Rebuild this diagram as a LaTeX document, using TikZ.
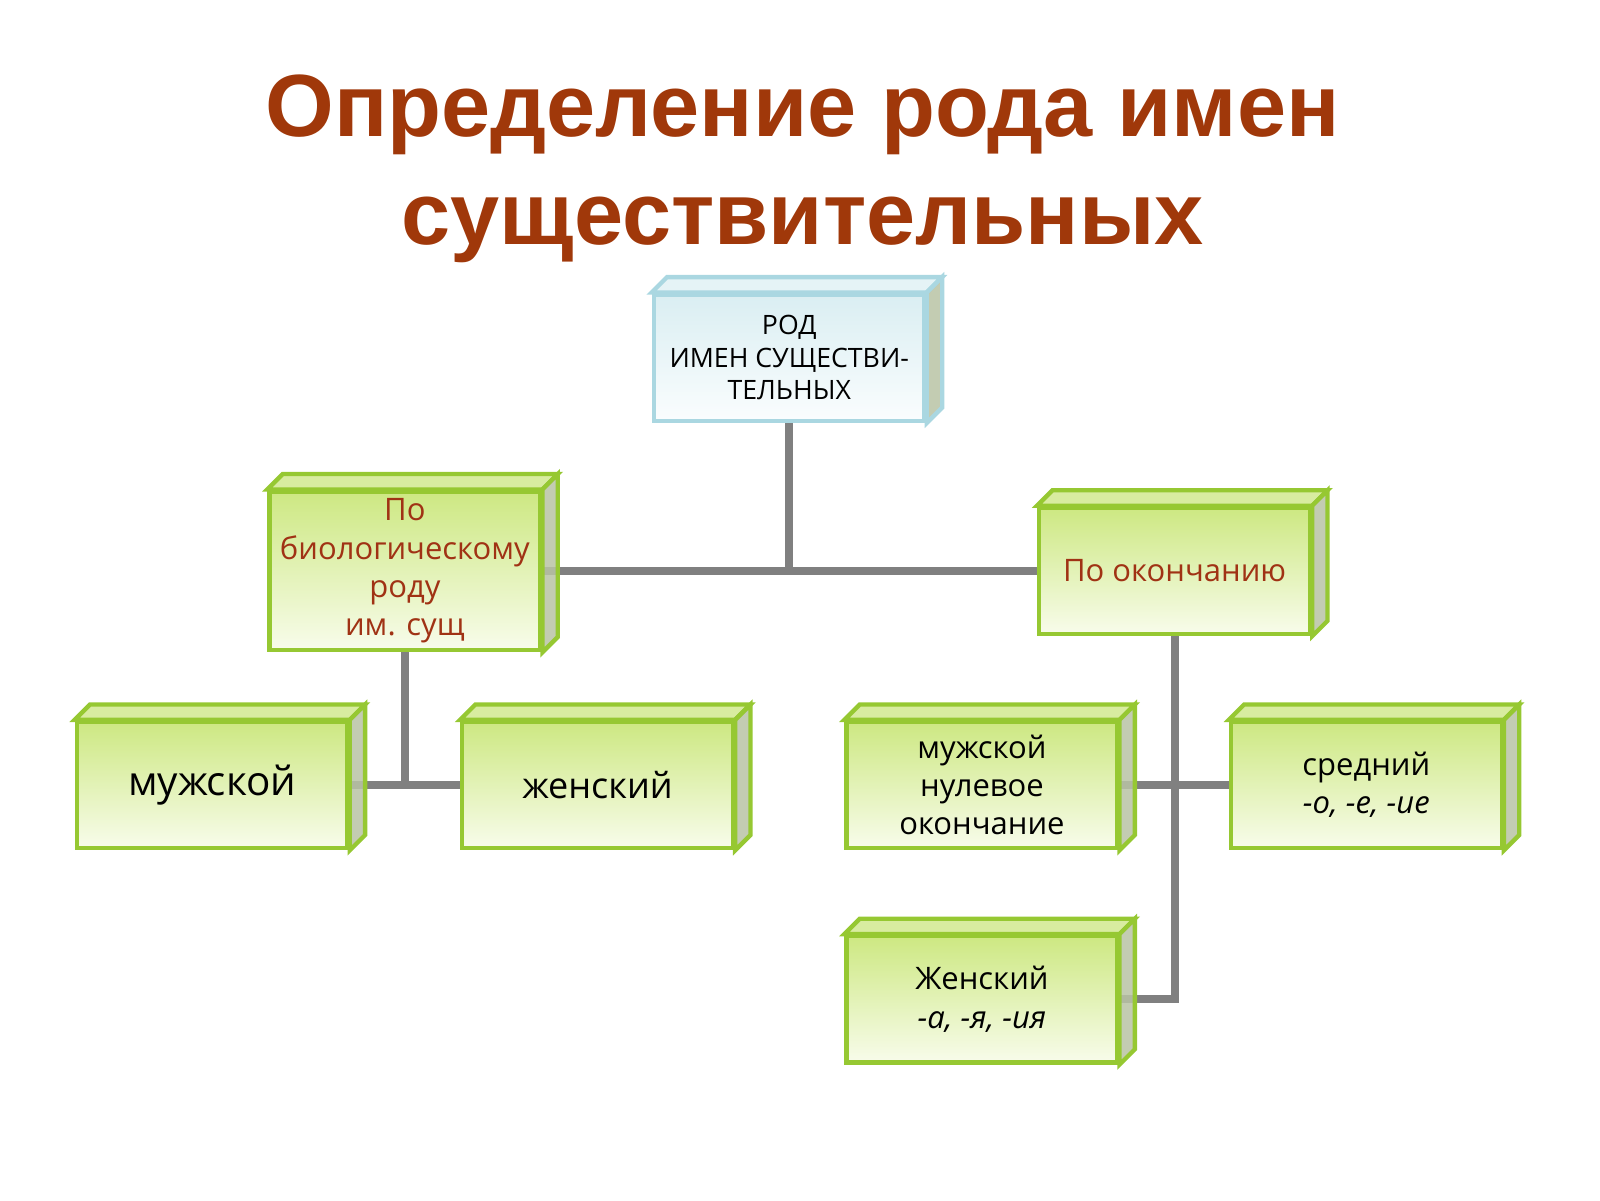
\documentclass[tikz,border=0pt]{standalone}
\usepackage{fontspec}
\setmainfont{Open Sans}
\newfontfamily\titlefont{Liberation Sans}
\definecolor{titlec}{RGB}{160,56,10}
\definecolor{gbord}{RGB}{150,200,50}
\definecolor{gtop}{RGB}{205,232,130}
\definecolor{gbot}{RGB}{248,252,235}
\definecolor{gtopface}{RGB}{200,228,120}
\definecolor{gside}{RGB}{185,195,165}
\definecolor{btop}{RGB}{218,238,242}
\definecolor{bbot}{RGB}{250,253,254}
\definecolor{bbord}{RGB}{170,215,225}
\definecolor{linec}{RGB}{128,128,128}
\definecolor{redtxt}{RGB}{160,50,20}
\newcommand\depthbox[3]{% name, border, topface
  \fill[#3!70!white,draw=#2,line width=1.2pt] (#1.north west) -- ++(15,-15) -- ([xshift=0.15cm,yshift=0.15cm]#1.north east) -- (#1.north east) -- cycle;
  \fill[gside,fill opacity=0.85,draw=#2,line width=1.2pt] (#1.north east) -- ++(15,-15) -- ([xshift=0.15cm,yshift=0.15cm]#1.south east) -- (#1.south east) -- cycle;
}
\begin{document}
\begin{tikzpicture}[x=0.01cm,y=-0.01cm,
  gbox/.style={draw=gbord,line width=1.2pt,top color=gtop,bottom color=gbot,
    minimum width=2.64cm,minimum height=1.23cm,inner sep=2pt,align=center,font=\fontsize{8.6}{10.6}\selectfont},
  conn/.style={draw=linec,line width=2.2pt}]
\useasboundingbox (0,0) rectangle (1561,1171);
\node[font=\titlefont\bfseries\fontsize{24.5}{30}\selectfont,text=titlec,align=center] (title) at (783,165) {Определение рода имен\\существительных};
% boxes
\node[gbox,draw=bbord,top color=btop,bottom color=bbot,font=\fontsize{7.4}{9}\selectfont] (top) at (770,349) {РОД\\ИМЕН СУЩЕСТВИ-\\ТЕЛЬНЫХ};
\node[gbox,text=redtxt] (bio) at (395,557) {По\\биологическому\\роду\\им. сущ};
\node[gbox,text=redtxt] (okon) at (1146,557) {По окончанию};
\node[gbox,font=\fontsize{11.2}{13}\selectfont] (muzh) at (207,766) {мужской};
\node[gbox,font=\fontsize{10}{12}\selectfont] (zhen) at (583,766) {женский};
\node[gbox] (mnul) at (958,766) {мужской\\нулевое\\окончание};
\node[gbox] (sred) at (1333,766) {средний\\\textit{-о, -е, -ие}};
\node[gbox] (zhen2) at (958,975) {Женский\\\textit{-а, -я, -ия}};
% connectors
\coordinate (j1) at (770,557);
\coordinate (j2) at (395,767);
\coordinate (j3) at (1146,767);
\coordinate (j4) at (1146,975);
\draw[conn] (top.south) -- (j1);
\draw[conn] (bio.east) -- (okon.west);
\draw[conn] (bio.south) -- (j2);
\draw[conn] (muzh.east) -- (zhen.west);
\draw[conn] (okon.south) -- (j4) -- (zhen2.east);
\draw[conn] (mnul.east) -- (sred.west);
% 3D faces
\depthbox{top}{bbord}{btop}
\foreach \n in {bio,okon,muzh,zhen,mnul,sred,zhen2}{\depthbox{\n}{gbord}{gtopface}}
\end{tikzpicture}
\end{document}
